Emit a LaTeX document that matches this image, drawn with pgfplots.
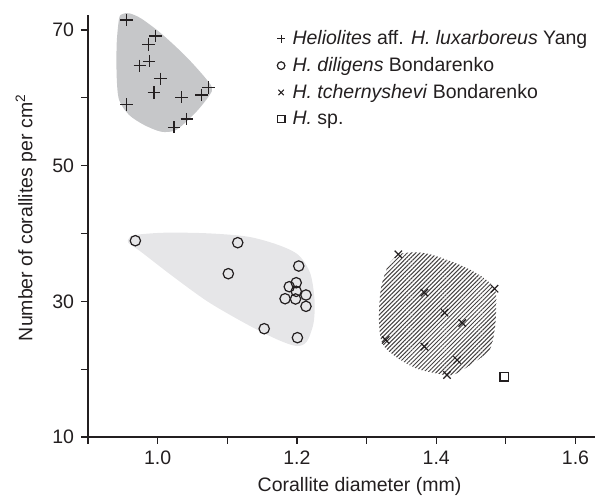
\documentclass[border=0pt]{standalone}
\usepackage{fontspec}
\setmainfont{Liberation Sans}
\usepackage{pgfplots}
\pgfplotsset{compat=1.18}
\usetikzlibrary{patterns.meta}
\definecolor{txt}{HTML}{231F20}
\definecolor{darkblob}{HTML}{C6C7C9}
\definecolor{lightblob}{HTML}{E6E6E8}
\begin{document}
\fontsize{9.75pt}{12pt}\selectfont
\begin{tikzpicture}
\begin{axis}[name=ax, scale only axis, width=253.5pt, height=211pt,
  xmin=0.9, xmax=1.628, ymin=10, ymax=72.2,
  axis x line*=bottom, axis y line*=left,
  axis line style={txt, line width=0.6pt},
  tick align=outside, major tick length=3.5pt,
  every tick/.style={txt, line width=0.6pt},
  xtick={0.9,1.0,1.1,1.2,1.3,1.4,1.5,1.6},
  xticklabels={,1.0,,1.2,,1.4,,1.6},
  ytick={10,20,30,40,50,60,70},
  yticklabels={10,,30,,50,,70},
  tick label style={font=\fontsize{9.75pt}{12pt}\selectfont, text=txt},
  xlabel={Corallite diameter (mm)},
  ylabel={Number of corallites per cm\textsuperscript{2}},
  xlabel style={at={(axis description cs:0.5356,-0.118)}, anchor=center, font=\fontsize{9.75pt}{12pt}\selectfont, text=txt},
  ylabel style={at={(axis description cs:-0.1225,0.52)}, anchor=center, font=\fontsize{9.75pt}{12pt}\selectfont, text=txt},
  clip=false,
  legend style={at={(axis cs:1.171,70.6)}, anchor=north west, draw=none, fill=none,
    font=\fontsize{9.75pt}{12pt}\selectfont, text=txt, inner sep=0pt, row sep=0.9pt,
    cells={anchor=west}},
  legend image code/.code={\path[draw=none, fill=none] (-0.07cm,-0.01cm) rectangle (0.13cm,0.01cm); \draw[#1, mark size=1.9pt, line width=0.45pt] plot coordinates {(0cm,0cm)};},
]
% blobs
\addplot[forget plot, draw=none, fill=darkblob, smooth cycle] coordinates {
(0.9447,71.71) (0.9495,72.34) (0.9591,72.45) (0.9759,71.71) (1.0048,69.5) (1.0386,66.3)
(1.065,63.35) (1.078,61.54) (1.0747,60.41) (1.0578,58.19) (1.0386,56.23) (1.0241,55.14)
(1.0048,55.0) (0.9808,55.98) (0.9591,57.46) (0.9447,59.67) (0.9412,63.1) (0.9412,68.0)};
\addplot[forget plot, draw=none, fill=lightblob, smooth cycle] coordinates {
(0.9591,39.29) (0.9664,39.77) (1.0097,40.11) (1.0722,40.02) (1.13,39.52) (1.1733,38.30)
(1.2022,36.82) (1.2191,34.13) (1.2253,30.19) (1.2238,26.76) (1.2141,24.05) (1.1997,23.41)
(1.1733,24.30) (1.13,26.51) (1.0722,29.94) (1.0192,33.88) (0.9759,37.31) (0.9577,38.64)};
\addplot[forget plot, draw=none, pattern={Lines[angle=45,distance=1.5pt,line width=0.5pt]}, pattern color=txt!85, smooth cycle] coordinates {
(1.3346,35.84) (1.3513,37.07) (1.3851,37.07) (1.4284,35.6) (1.4621,33.88) (1.4838,31.92)
(1.4862,29.2) (1.4838,25.77) (1.4765,22.82) (1.4524,20.86) (1.4235,19.14) (1.3996,19.39)
(1.3707,20.13) (1.3418,21.84) (1.3225,23.81) (1.3177,27.24) (1.3202,31.67) (1.3274,34.36)};
% points
\addplot[only marks, mark=+, mark size=3.1pt, mark options={txt, line width=0.6pt}] coordinates {
(0.955,71.46) (0.9967,69.1) (0.9866,67.88) (0.988,65.4) (0.9744,64.72) (1.004,62.8)
(0.9947,60.8) (1.034,60.07) (1.073,61.54) (1.063,60.4) (0.955,58.98) (1.042,56.87) (1.0235,55.65)};
\addlegendentry{\textit{Heliolites} aff. \textit{H. luxarboreus} Yang}
\addplot[only marks, mark=o, mark size=2.6pt, mark options={draw=txt, fill=white, line width=0.6pt}] coordinates {
(0.968,38.93) (1.115,38.64) (1.2026,35.2) (1.1015,34.07) (1.199,32.74) (1.189,32.15)
(1.199,31.47) (1.213,30.93) (1.183,30.38) (1.198,30.34) (1.213,29.26) (1.153,25.96) (1.2007,24.64)};
\addlegendentry{\textit{H. diligens} Bondarenko}
\addplot[only marks, mark=x, mark size=2.6pt, mark options={txt, line width=0.6pt}] coordinates {
(1.3456,36.93) (1.4838,31.86) (1.383,31.27) (1.412,28.32) (1.4375,26.8) (1.3274,24.3)
(1.383,23.31) (1.43,21.35) (1.4155,19.14)};
\addlegendentry{\textit{H. tchernyshevi} Bondarenko}
\addplot[only marks, mark=square, mark size=2.2pt, mark options={draw=txt, fill=white, line width=0.6pt}] coordinates {
(1.498,18.89)};
\addlegendentry{\textit{H.} sp.}
\end{axis}
\pgfresetboundingbox
\path[use as bounding box] ([xshift=-44pt,yshift=-31pt]ax.south west) rectangle ([xshift=1pt,yshift=7.5pt]ax.north east);
\end{tikzpicture}
\end{document}
